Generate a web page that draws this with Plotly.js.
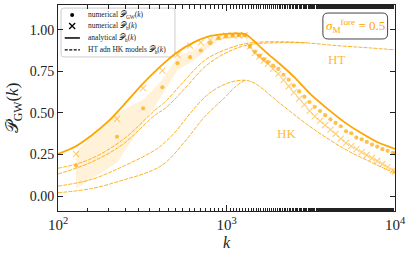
<!DOCTYPE html>
<html><head><meta charset="utf-8">
<script src="https://cdn.plot.ly/plotly-3.0.1.min.js"></script>
<style>html,body{margin:0;padding:0;background:#fff}#c{width:413px;height:259px}</style>
</head><body><div id="c"></div>
<script>
// analytical P_h(k)
const kA = [100,126,158,200,251,316,398,501,631,794,1000,1150,1290,1380,1480,1700,2075,2500,3160,3980,5010,6310,7940,10000];
const PA = [0.253,0.297,0.365,0.452,0.559,0.672,0.773,0.86,0.922,0.962,0.976,0.979,0.975,0.955,0.926,0.869,0.795,0.72,0.612,0.525,0.445,0.379,0.322,0.284];
// HT models
const kTa = [100,152,239,377,433,568,746,980,1346,2075,3000,4600,7000,10000];
const PTa = [0.167,0.218,0.334,0.518,0.568,0.699,0.819,0.88,0.92,0.929,0.922,0.905,0.892,0.88];
const kTb = [100,152,239,377,433,568,746,980,1346,2075,3000];
const PTb = [0.133,0.197,0.307,0.488,0.528,0.649,0.779,0.859,0.91,0.923,0.922];
// HK models
const kKa = [100,158,251,377,433,501,568,746,891,1072,1288,1476,2075,3266,5150,7000,10000];
const PKa = [0.06,0.10,0.185,0.277,0.325,0.39,0.46,0.597,0.653,0.687,0.697,0.678,0.558,0.405,0.277,0.21,0.137];
const kKb = [100,158,251,355,433,568,746,980,1150,1288];
const PKb = [0.02,0.045,0.10,0.15,0.20,0.33,0.48,0.595,0.665,0.697];
// numerical points
const kN = [128,224,320,416,512,608,704,800,896,992,1088,1184,1280,1376,1472,1568,1664,1760,1890,2030,2180,2340,2510,2700,2900,3110,3340,3590,3850,4140,4440,4770,5120,5500,5900,6340,6800,7300,7840,8420,9040,9700,10000];
const PGW = [0.183,0.357,0.528,0.655,0.80,0.836,0.876,0.92,0.95,0.96,0.965,0.968,0.968,0.90,0.87,0.845,0.825,0.808,0.785,0.765,0.73,0.70,0.665,0.63,0.598,0.566,0.537,0.512,0.487,0.462,0.44,0.42,0.39,0.378,0.352,0.342,0.326,0.31,0.298,0.282,0.272,0.26,0.257];
const PH = [0.253,0.464,0.649,0.755,0.85,0.905,0.925,0.94,0.955,0.965,0.968,0.968,0.968,0.90,0.86,0.84,0.815,0.795,0.765,0.735,0.698,0.661,0.624,0.587,0.55,0.513,0.479,0.453,0.427,0.40,0.374,0.346,0.32,0.301,0.283,0.265,0.247,0.229,0.211,0.193,0.174,0.155,0.147];
// variance band of P_GW
const bandK  = [128,224,320,416,512,608,704,800,896,992,1088,1184,1280,1376];
const bandLo = [0.045,0.20,0.44,0.61,0.76,0.80,0.85,0.90,0.935,0.95,0.955,0.958,0.958,0.89];
const bandHi = [0.27,0.50,0.58,0.70,0.84,0.87,0.90,0.94,0.96,0.97,0.975,0.978,0.978,0.91];
// tick labels
const xTickVals = [100, 1000, 10000];
const xTickText = ['10<sup>2</sup>', '10<sup>3</sup>', '10<sup>4</sup>'];
const yTickVals = [0, 0.25, 0.5, 0.75, 1.0];
// legend labels
const legendLabels = ['numerical 𝒫<sub>GW</sub>(<i>k</i>)', 'numerical 𝒫<sub>h</sub>(<i>k</i>)',
                      'analytical 𝒫<sub>h</sub>(<i>k</i>)', 'HT adn HK models 𝒫<sub>h</sub>(<i>k</i>)'];

const OR = '#FFA500';
const dashC = 'rgba(255,165,0,0.85)';
const F = 'Liberation Serif, DejaVu Serif, serif';
const dashStyle = {color: dashC, width: 1, dash: '4px,1.2px', shape: 'spline'};

// legend layout (paper coords)
const legY = [0.951, 0.898, 0.840, 0.782];
const legMarkX = 0.042, legTextX = 0.083;

const traces = [
  {x: bandK.concat(bandK.slice().reverse()), y: bandHi.concat(bandLo.slice().reverse()),
   fill: 'toself', mode: 'none', fillcolor: 'rgba(255,165,0,0.15)', hoverinfo: 'skip'},
  {x: kTa, y: PTa, mode: 'lines', line: dashStyle},
  {x: kTb, y: PTb, mode: 'lines', line: dashStyle},
  {x: kKa, y: PKa, mode: 'lines', line: dashStyle},
  {x: kKb, y: PKb, mode: 'lines', line: dashStyle},
  {x: kN, y: PH, mode: 'markers', marker: {symbol: 'x-thin-open', size: 6, color: 'rgba(255,165,0,0.55)', line: {color: 'rgba(255,165,0,0.55)', width: 1.1}}},
  {x: kN, y: PGW, mode: 'markers', marker: {symbol: 'circle', size: 4.2, color: 'rgba(255,165,0,0.7)'}},
  {x: kA, y: PA, mode: 'lines', line: {color: OR, width: 1.8, shape: 'spline', smoothing: 0.6}},
  // legend key samples on an overlay axis in plot-fraction units
  {x: [legMarkX], y: [legY[0]], xaxis: 'x2', yaxis: 'y2', mode: 'markers', marker: {symbol: 'circle', size: 4, color: '#000'}},
  {x: [legMarkX], y: [legY[1]], xaxis: 'x2', yaxis: 'y2', mode: 'markers', marker: {symbol: 'x-thin-open', size: 6, color: '#000', line: {color: '#000', width: 1.3}}},
  {x: [0.02, 0.065], y: [legY[2], legY[2]], xaxis: 'x2', yaxis: 'y2', mode: 'lines', line: {color: '#000', width: 1.5}},
  {x: [0.02, 0.065], y: [legY[3], legY[3]], xaxis: 'x2', yaxis: 'y2', mode: 'lines', line: {color: '#000', width: 1.2, dash: '3px,1.5px'}}
];

function rrect(x0, y0, x1, y1, rx, ry) {
  return `M ${x0+rx} ${y0} L ${x1-rx} ${y0} Q ${x1} ${y0} ${x1} ${y0+ry} L ${x1} ${y1-ry} Q ${x1} ${y1} ${x1-rx} ${y1} ` +
         `L ${x0+rx} ${y1} Q ${x0} ${y1} ${x0} ${y1-ry} L ${x0} ${y0+ry} Q ${x0} ${y0} ${x0+rx} ${y0} Z`;
}

const annotations = [
  {xref: 'paper', yref: 'paper', x: 0.882, y: 0.898, xanchor: 'center', yanchor: 'middle', showarrow: false,
   text: '<i>σ</i><sub>M</sub><sup>fore</sup> = 0.5', font: {family: F, size: 13, color: OR}},
  {x: Math.log10(4520), y: 0.82, showarrow: false, xanchor: 'center', yanchor: 'middle', text: 'HT', font: {family: F, size: 13, color: 'rgba(255,165,0,0.8)'}},
  {x: Math.log10(2275), y: 0.378, showarrow: false, xanchor: 'center', yanchor: 'middle', text: 'HK', font: {family: F, size: 13, color: 'rgba(255,165,0,0.8)'}}
];
legendLabels.forEach((t, i) => annotations.push({xref: 'paper', yref: 'paper', x: legTextX, y: legY[i],
  xanchor: 'left', yanchor: 'middle', showarrow: false, text: t, font: {family: F, size: 7.5, color: '#222'}}));

const layout = {
  width: 413, height: 259,
  margin: {l: 58, r: 18, t: 5, b: 48},
  paper_bgcolor: '#fff', plot_bgcolor: '#fff',
  font: {family: F, size: 14, color: '#222'},
  showlegend: false,
  xaxis: {type: 'log', range: [2, 4], showgrid: false, zeroline: false,
          showline: true, linecolor: '#222', linewidth: 1, mirror: 'ticks',
          ticks: 'inside', ticklen: 6, tickcolor: '#222', tickvals: xTickVals, ticktext: xTickText,
          tickfont: {family: F, size: 15},
          minor: {ticks: 'inside', ticklen: 3.5, tickcolor: '#222', showgrid: false},
          title: {text: '<i>k</i>', font: {family: F, size: 16}, standoff: 4}},
  yaxis: {range: [-0.09, 1.15], showgrid: false, zeroline: false,
          showline: true, linecolor: '#222', linewidth: 1, mirror: 'ticks',
          ticks: 'inside', ticklen: 5, tickcolor: '#222', tickvals: yTickVals, tickformat: '.2f',
          tickfont: {family: F, size: 14},
          title: {text: '𝒫<sub>GW</sub>(<i>k</i>)', font: {family: F, size: 17}, standoff: 6}},
  xaxis2: {overlaying: 'x', range: [0, 1], visible: false, fixedrange: true},
  yaxis2: {overlaying: 'y', range: [0, 1], visible: false, fixedrange: true},
  shapes: [
    {type: 'path', xref: 'paper', yref: 'paper', layer: 'below', path: rrect(0.786, 0.835, 0.978, 0.961, 0.015, 0.025),
     line: {color: '#444', width: 1}, fillcolor: '#fff'},
    {type: 'path', xref: 'paper', yref: 'paper', layer: 'below', path: rrect(0.009, 0.748, 0.347, 0.985, 0.008, 0.013),
     line: {color: '#cccccc', width: 1}, fillcolor: '#fff'}
  ],
  annotations: annotations
};
Plotly.newPlot('c', traces, layout, {displayModeBar: false, staticPlot: true});
</script></body></html>
